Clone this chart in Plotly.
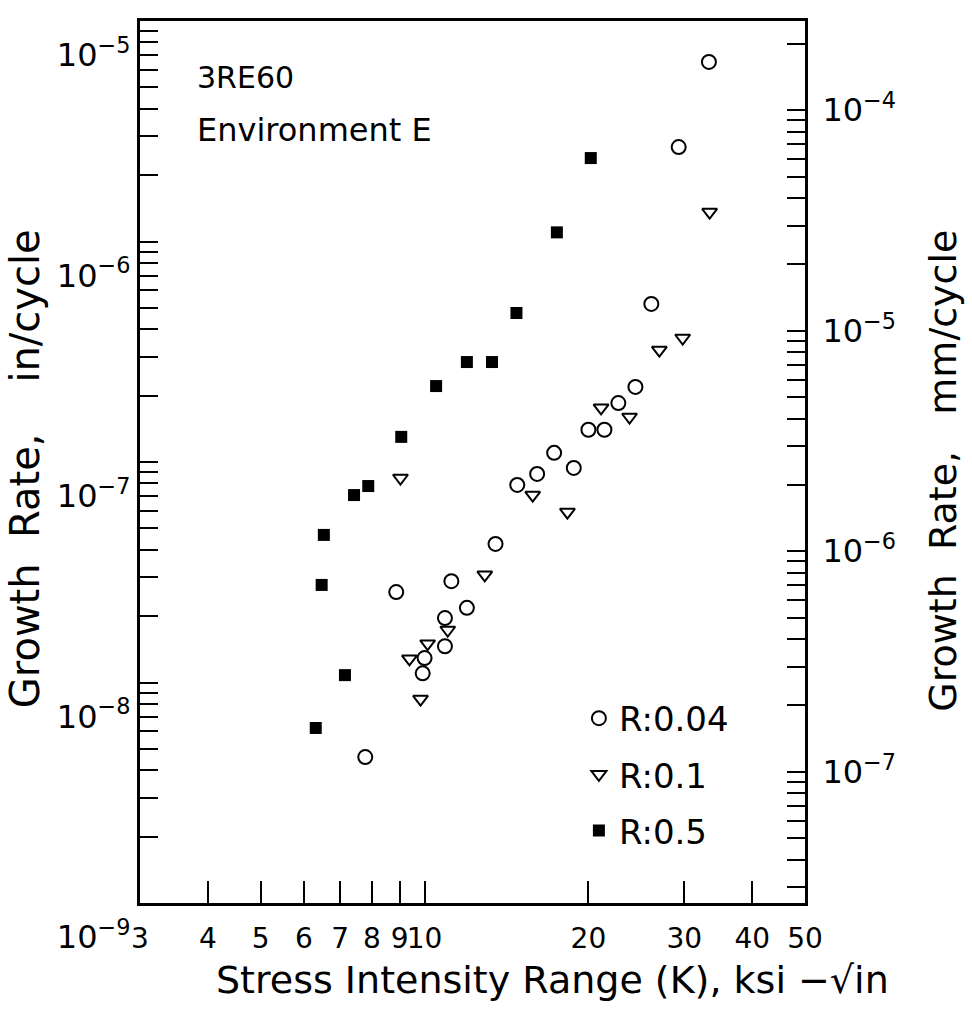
import numpy as np
import plotly.graph_objects as go

# Stress intensity range (ksi*sqrt(in)) and crack growth rate (in/cycle)
k_r004 = [7.78, 8.87, 9.92, 10.0, 10.9, 10.9, 11.2, 11.96, 13.5, 14.8,
          16.1, 17.3, 18.8, 20.0, 21.4, 22.7, 24.4, 26.1, 29.3, 33.3]
da_r004 = [4.59e-9, 2.57e-8, 1.10e-8, 1.29e-8, 1.46e-8, 1.96e-8, 2.88e-8, 2.18e-8, 4.25e-8, 7.87e-8,
           8.83e-8, 1.10e-7, 9.40e-8, 1.40e-7, 1.40e-7, 1.85e-7, 2.19e-7, 5.21e-7, 2.68e-6, 6.52e-6]

k_r01 = [9.03, 9.38, 9.83, 10.13, 11.03, 12.9, 15.8, 18.3, 21.1, 23.8, 27.0, 29.8, 33.4]
da_r01 = [8.46e-8, 1.28e-8, 8.41e-9, 1.50e-8, 1.73e-8, 3.08e-8, 7.08e-8, 5.93e-8,
          1.76e-7, 1.60e-7, 3.22e-7, 3.65e-7, 1.36e-6]

k_r05 = [6.31, 6.47, 6.53, 7.14, 7.42, 7.88, 9.06, 10.5, 11.96, 13.3, 14.75, 17.5, 20.2]
da_r05 = [6.22e-9, 2.77e-8, 4.67e-8, 1.08e-8, 7.08e-8, 7.78e-8, 1.30e-7, 2.21e-7,
          2.84e-7, 2.84e-7, 4.74e-7, 1.10e-6, 2.39e-6]

x_ticks = [3, 4, 5, 6, 7, 8, 9, 10, 20, 30, 40, 50]
x_range = (3, 50)
y_range_in = (1e-9, 1e-5)
IN_TO_MM = 25.4

FONT = "DejaVu Sans"
INK = "black"


def log_ticks(lo, hi):
    """All 1..9 multiples of each decade inside [lo, hi]; label only the decades."""
    vals, text = [], []
    for e in range(int(np.floor(np.log10(lo))) - 1, int(np.ceil(np.log10(hi))) + 1):
        for m in range(1, 10):
            v = m * 10.0 ** e
            if lo * 0.999 <= v <= hi * 1.001:
                vals.append(v)
                text.append(f"10<sup>\u2212{-e}</sup>" if m == 1 else "")
    return vals, text


yv_in, yt_in = log_ticks(*y_range_in)
yv_mm, yt_mm = log_ticks(y_range_in[0] * IN_TO_MM, y_range_in[1] * IN_TO_MM)

fig = go.Figure()

fig.add_trace(go.Scatter(
    x=k_r004, y=da_r004, mode="markers", name="R:0.04", legendgroup="a",
    marker=dict(symbol="circle-open", size=14, color=INK, line=dict(width=2, color=INK)),
))
fig.add_trace(go.Scatter(
    x=k_r01, y=da_r01, mode="markers", name="R:0.1", legendgroup="b",
    marker=dict(symbol="triangle-down-open", size=13, color=INK, line=dict(width=2, color=INK)),
))
fig.add_trace(go.Scatter(
    x=k_r05, y=da_r05, mode="markers", name="R:0.5", legendgroup="c",
    marker=dict(symbol="square", size=12, color=INK),
))
# empty trace so the mm/cycle axis is drawn
fig.add_trace(go.Scatter(x=[], y=[], yaxis="y2", showlegend=False, hoverinfo="skip"))

title_font = dict(family=FONT, color=INK)

fig.update_layout(
    width=972, height=1014,
    margin=dict(l=140, r=167, t=21, b=111),
    paper_bgcolor="white", plot_bgcolor="white",
    font=dict(family=FONT, color=INK),
    showlegend=True,
    legend=dict(
        x=0.660, y=0.242, xanchor="left", yanchor="top",
        font=dict(size=34, family=FONT, color=INK),
        bgcolor="rgba(0,0,0,0)", itemwidth=30, tracegroupgap=9,
    ),
    xaxis=dict(
        type="log", range=[np.log10(x_range[0]), np.log10(x_range[1])],
        tickvals=x_ticks, ticktext=[str(v) for v in x_ticks], tickangle=0,
        ticks="inside", ticklen=22, tickwidth=2, tickcolor=INK,
        showline=True, linewidth=3, linecolor=INK, mirror=True,
        showgrid=False, zeroline=False,
        tickfont=dict(size=28, family=FONT, color=INK),
        ticklabelstandoff=8,
    ),
    yaxis=dict(
        type="log", range=[np.log10(y_range_in[0]), np.log10(y_range_in[1])],
        tickvals=yv_in, ticktext=yt_in,
        ticks="inside", ticklen=18, tickwidth=2, tickcolor=INK,
        showline=True, linewidth=3, linecolor=INK,
        showgrid=False, zeroline=False,
        tickfont=dict(size=32, family=FONT, color=INK),
        ticklabelshift=34, ticklabelstandoff=0,
    ),
    yaxis2=dict(
        type="log", overlaying="y", side="right",
        range=[np.log10(y_range_in[0] * IN_TO_MM), np.log10(y_range_in[1] * IN_TO_MM)],
        tickvals=yv_mm, ticktext=yt_mm,
        ticks="inside", ticklen=18, tickwidth=2, tickcolor=INK,
        showline=True, linewidth=3, linecolor=INK,
        showgrid=False, zeroline=False,
        tickfont=dict(size=32, family=FONT, color=INK),
        ticklabelstandoff=8,
    ),
    annotations=[
        dict(text="Stress Intensity Range (K), ksi \u2212\u221ain",
             xref="paper", yref="paper", x=0.62, y=-0.0873,
             xanchor="center", yanchor="middle", showarrow=False,
             font=dict(size=38, **title_font)),
        dict(text="Growth  Rate,    in/cycle", textangle=-90,
             xref="paper", yref="paper", x=-0.173, y=0.493,
             xanchor="center", yanchor="middle", showarrow=False,
             font=dict(size=40, **title_font)),
        dict(text="Growth  Rate,   mm/cycle", textangle=-90,
             xref="paper", yref="paper", x=1.2075, y=0.490,
             xanchor="center", yanchor="middle", showarrow=False,
             font=dict(size=38, **title_font)),
        dict(text="3RE60", xref="paper", yref="paper", x=0.083, y=0.936,
             xanchor="left", yanchor="middle", showarrow=False,
             font=dict(size=30, **title_font)),
        dict(text="Environment E", xref="paper", yref="paper", x=0.083, y=0.876,
             xanchor="left", yanchor="middle", showarrow=False,
             font=dict(size=32, **title_font)),
    ],
)

fig.write_html("out.html")
